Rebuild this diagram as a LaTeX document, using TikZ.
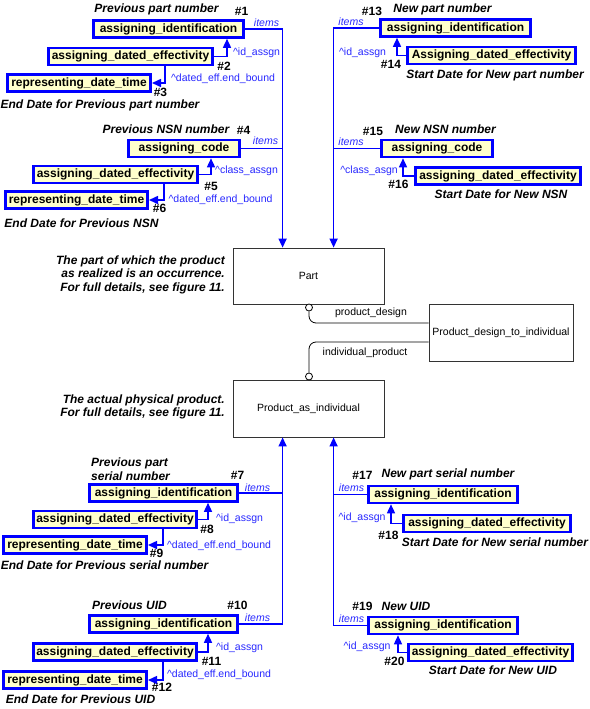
\documentclass[tikz,border=0pt]{standalone}
\usepackage{fontspec}
\setmainfont{Liberation Sans}
\usetikzlibrary{arrows.meta}
\definecolor{cream}{RGB}{255,255,204}
\definecolor{lblue}{RGB}{40,40,255}
\begin{document}
\begin{tikzpicture}[x=1pt,y=-1pt,
 ebox/.style={draw=blue, line width=2.6pt, fill=cream, minimum height=17pt, inner sep=0pt, font=\bfseries\fontsize{12}{14}\selectfont},
 mbox/.style={draw=black!80, line width=0.8pt, fill=white, font=\fontsize{10.5}{12}\selectfont, inner sep=0pt},
 conn/.style={draw=blue, line width=1.5pt},
 arr/.style={-{Triangle[length=9pt,width=8pt]}},
 lab/.style={font=\bfseries\itshape\fontsize{12}{13.5}\selectfont, inner sep=0pt},
 num/.style={font=\bfseries\fontsize{12}{14}\selectfont, inner sep=0pt},
 blab/.style={text=lblue, font=\fontsize{10.5}{12}\selectfont, inner sep=0pt},
 ilab/.style={text=lblue, font=\itshape\fontsize{10.5}{12}\selectfont, inner sep=0pt},
 rel/.style={draw=black, line width=0.8pt},
 rlab/.style={font=\fontsize{10.5}{12}\selectfont, inner sep=0pt},
 ring/.style={circle, draw=black, fill=white, line width=0.8pt, inner sep=0pt, minimum size=7pt}
]
\useasboundingbox[fill=white] (0,0) rectangle (589,709);

% main boxes
\node[mbox, minimum width=151pt, minimum height=56pt] (Part) at (308.5,276) {Part};
\node[mbox, minimum width=144pt, minimum height=57pt] (PDI) at (501,332.5) {Product\_design\_to\_individual};
\node[mbox, minimum width=151pt, minimum height=57pt] (PAI) at (308.5,408.5) {Product\_as\_individual};

% entity boxes
\node[ebox, minimum width=150.4pt] (b1) at (168.5,29) {assigning\_identification};
\node[ebox, minimum width=164.4pt] (b2) at (130.5,56.5) {assigning\_dated\_effectivity};
\node[ebox, minimum width=143.4pt] (b3) at (79,83) {representing\_date\_time};
\node[ebox, minimum width=111.4pt] (b4) at (184,148.5) {assigning\_code};
\node[ebox, minimum width=164.4pt] (b5) at (115.5,174.5) {assigning\_dated\_effectivity};
\node[ebox, minimum width=142.4pt] (b6) at (76.5,200) {representing\_date\_time};
\node[ebox, minimum width=148.4pt] (b7) at (163.5,493) {assigning\_identification};
\node[ebox, minimum width=163.4pt] (b8) at (115,519.5) {assigning\_dated\_effectivity};
\node[ebox, minimum width=143.4pt] (b9) at (75,545) {representing\_date\_time};
\node[ebox, minimum width=148.4pt] (b10) at (163.5,624) {assigning\_identification};
\node[ebox, minimum width=163.4pt] (b11) at (115,652) {assigning\_dated\_effectivity};
\node[ebox, minimum width=143.4pt] (b12) at (75,680) {representing\_date\_time};
\node[ebox, minimum width=150.4pt] (b13) at (455.5,28) {assigning\_identification};
\node[ebox, minimum width=168.4pt] (b14) at (491.5,55.5) {Assigning\_dated\_effectivity};
\node[ebox, minimum width=111.4pt] (b15) at (437,148.5) {assigning\_code};
\node[ebox, minimum width=165.4pt] (b16) at (498,176) {assigning\_dated\_effectivity};
\node[ebox, minimum width=149.4pt] (b17) at (443,494.5) {assigning\_identification};
\node[ebox, minimum width=167.4pt] (b18) at (487,523.5) {assigning\_dated\_effectivity};
\node[ebox, minimum width=149.4pt] (b19) at (443,625.5) {assigning\_identification};
\node[ebox, minimum width=164.4pt] (b20) at (490.5,652.5) {assigning\_dated\_effectivity};

% trunk coordinates
\coordinate (L1) at ([xshift=50pt]Part.north west);
\coordinate (L2) at ([xshift=101pt]Part.north west);
\coordinate (L3) at ([xshift=50pt]PAI.south west);
\coordinate (L4) at ([xshift=101pt]PAI.south west);

% top-left connectors
\draw[conn,arr] (b1.east) -| (L1);
\draw[conn] (b4.east) -- (b4.east -| L1);
\draw[conn,arr] (b2.east) -| ([xshift=-18pt]b1.south east);
\draw[conn,arr] ([xshift=118pt]b2.south west) |- (b3.east);
\draw[conn,arr] (b5.east) -| ([xshift=84pt]b4.south west);
\draw[conn,arr] ([xshift=132pt]b5.south west) |- (b6.east);

% top-right connectors
\draw[conn,arr] (b13.west) -| (L2);
\draw[conn] (b15.west) -- (b15.west -| L2);
\draw[conn,arr] (b14.west) -| ([xshift=18pt]b13.south west);
\draw[conn,arr] (b16.west) -| ([xshift=23pt]b15.south west);

% bottom-left connectors
\draw[conn,arr] (b10.east) -| (L3);
\draw[conn] (b7.east) -- (b7.east -| L3);
\draw[conn,arr] (b8.east) -| ([xshift=120pt]b7.south west);
\draw[conn,arr] ([xshift=131pt]b8.south west) |- (b9.east);
\draw[conn,arr] (b11.east) -| ([xshift=120pt]b10.south west);
\draw[conn,arr] ([xshift=131pt]b11.south west) |- (b12.east);

% bottom-right connectors
\draw[conn,arr] (b19.west) -| (L4);
\draw[conn] (b17.west) -- (b17.west -| L4);
\draw[conn,arr] (b18.west) -| ([xshift=24pt]b17.south west);
\draw[conn,arr] (b20.west) -| ([xshift=31pt]b19.south west);

% relationships
\node[ring] (c1) at (309,307.5) {};
\node[ring] (c2) at (309,376.5) {};
\draw[rel, rounded corners=7pt] (c1.south) |- ([yshift=9.5pt]PDI.west);
\draw[rel, rounded corners=7pt] ([yshift=-9.5pt]PDI.west) -| (c2.north);
\node[rlab] (rl1) at (371,313) {product\_design};
\node[rlab] (rl2) at (365,353) {individual\_product};

% notes
\node[lab, align=right, anchor=east] (n1) at (225,274.5) {The part of which the product\\as realized is an occurrence.\\For full details, see figure 11.};
\node[lab, align=right, anchor=east] (n2) at (225,407) {The actual physical product.\\For full details, see figure 11.};

% top-left labels
\node[lab] (t1) at (156.5,9) {Previous part number};
\node[num] (h1) at (241.5,11) {\#1};
\node[num] (h2) at (224,66) {\#2};
\node[num] (h3) at (160.5,92) {\#3};
\node[lab] (t3) at (100,105) {End Date for Previous part number};
\node[lab] (t4) at (166,129) {Previous NSN number};
\node[num] (h4) at (243.5,130) {\#4};
\node[num] (h5) at (211,186) {\#5};
\node[num] (h6) at (159.5,208) {\#6};
\node[lab] (t6) at (81.5,223) {End Date for Previous NSN};
\node[ilab] (i1) at (266.5,23) {items};
\node[blab] (a2) at (256.5,53) {\textasciicircum id\_assgn};
\node[blab] (a3) at (223,79) {\textasciicircum dated\_eff.end\_bound};
\node[ilab] (i4) at (265.5,141) {items};
\node[blab] (a5) at (246.5,171) {\textasciicircum class\_assgn};
\node[blab] (a6) at (220.5,200) {\textasciicircum dated\_eff.end\_bound};

% top-right labels
\node[num] (h13) at (372,11) {\#13};
\node[lab] (t13) at (442.5,9) {New part number};
\node[ilab] (i13) at (351,22) {items};
\node[blab] (a14) at (362.5,53) {\textasciicircum id\_assgn};
\node[num] (h14) at (391,64) {\#14};
\node[lab] (t14) at (495,75) {Start Date for New part number};
\node[num] (h15) at (373,131) {\#15};
\node[lab] (t15) at (445.5,129) {New NSN number};
\node[ilab] (i15) at (351,142) {items};
\node[blab] (a16) at (369,171) {\textasciicircum class\_asgn};
\node[num] (h16) at (398.5,184) {\#16};
\node[lab] (t16) at (501,194) {Start Date for New NSN};

% bottom-left labels
\node[lab, align=left, anchor=west] (t7) at (91,469) {Previous part\\serial number};
\node[num] (h7) at (237.5,475) {\#7};
\node[ilab] (i7) at (257.5,488) {items};
\node[blab] (a8) at (239.5,519) {\textasciicircum id\_assgn};
\node[num] (h8) at (207,529) {\#8};
\node[blab] (a9) at (219,546) {\textasciicircum dated\_eff.end\_bound};
\node[num] (h9) at (156.5,553) {\#9};
\node[lab] (t9) at (104.5,565) {End Date for Previous serial number};
\node[lab] (t10) at (129.5,605) {Previous UID};
\node[num] (h10) at (237.5,605) {\#10};
\node[ilab] (i10) at (257.5,618) {items};
\node[blab] (a11) at (239.5,648) {\textasciicircum id\_assgn};
\node[num] (h11) at (211.5,661) {\#11};
\node[blab] (a12) at (219,675) {\textasciicircum dated\_eff.end\_bound};
\node[num] (h12) at (162,687) {\#12};
\node[lab] (t12) at (80.5,699) {End Date for Previous UID};

% bottom-right labels
\node[num] (h17) at (362.5,475) {\#17};
\node[lab] (t17) at (448,474) {New part serial number};
\node[ilab] (i17) at (351.5,488) {items};
\node[blab] (a18) at (362,518) {\textasciicircum id\_assgn};
\node[num] (h18) at (388.5,535) {\#18};
\node[lab] (t18) at (495,542) {Start Date for New serial number};
\node[num] (h19) at (362.5,606) {\#19};
\node[lab] (t19) at (406,606) {New UID};
\node[ilab] (i19) at (351.5,619) {items};
\node[blab] (a20) at (367,647) {\textasciicircum id\_assgn};
\node[num] (h20) at (394.5,661) {\#20};
\node[lab] (t20) at (493,670) {Start Date for New UID};
\end{tikzpicture}
\end{document}
